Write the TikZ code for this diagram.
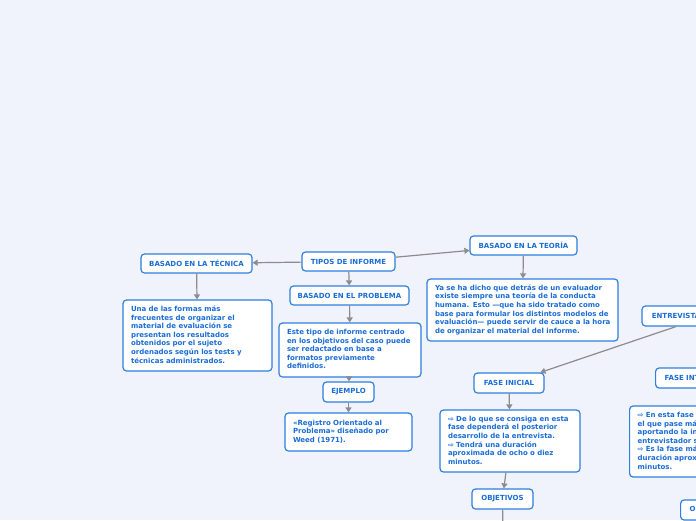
\documentclass[tikz,border=0pt]{standalone}
\usepackage{fontspec}
\setmainfont{DejaVu Sans}
\usetikzlibrary{arrows.meta}
\definecolor{bg}{HTML}{F0F3FC}
\definecolor{bord}{HTML}{2D7FE0}
\definecolor{txt}{HTML}{1A6CD6}
\definecolor{conncol}{HTML}{8C8C8C}
\newcommand{\lines}[1]{\begin{tabular}{@{}l@{}}#1\end{tabular}}
\tikzset{
 box/.style={draw=bord, fill=white, rounded corners=3.5pt, line width=1.2pt, text=txt, font=\bfseries\fontsize{7}{8.6}\selectfont},
 title/.style={box, align=center, inner sep=0pt, minimum height=19pt},
 body/.style={box, align=left, inner xsep=8pt, inner ysep=0pt},
 conn/.style={draw=conncol, line width=1.2pt, -{Triangle[length=5pt,width=6pt]}}
}
\begin{document}
\begin{tikzpicture}[x=1pt,y=-1pt]
\fill[bg] (0,0) rectangle (696,520);
\useasboundingbox (0,0) rectangle (696,520);
\clip (0,0) rectangle (696,520);
% left part
\node[title, minimum width=93pt] (tipos) at (348.5,261.5) {TIPOS DE INFORME};
\node[title, minimum width=111pt] (tecnica) at (196.5,263.5) {BASADO EN LA TÉCNICA};
\node[title, minimum width=119pt] (problema) at (349.5,295.5) {BASADO EN EL PROBLEMA};
\node[title, minimum width=107pt] (teoria) at (523.5,245.5) {BASADO EN LA TEORÍA};
\node[body, text width=133pt, minimum height=71pt] (tectext) at (197.5,335.5)
 {\lines{Una de las formas más\\frecuentes de organizar el\\material de evaluación se\\presentan los resultados\\obtenidos por el sujeto\\ordenados según los tests y\\técnicas administrados.}};
\node[body, text width=126pt, minimum height=54pt] (probtext) at (350,350)
 {\lines{Este tipo de informe centrado\\en los objetivos del caso puede\\ser redactado en base a\\formatos previamente\\definidos.}};
\node[title, minimum width=51pt, minimum height=20pt] (ejemplo) at (348.5,392) {EJEMPLO};
\node[body, text width=111pt, minimum height=38pt] (registro) at (348.5,432)
 {\lines{«Registro Orientado al\\Problema» diseñado por\\Weed (1971).}};
\node[body, text width=175pt, minimum height=62pt] (teotext) at (522.5,310)
 {\lines{Ya se ha dicho que detrás de un evaluador\\existe siempre una teoría de la conducta\\humana. Esto —que ha sido tratado como\\base para formular los distintos modelos de\\evaluación— puede servir de cauce a la hora\\de organizar el material del informe.}};
% entrevista part
\node[title, minimum width=68pt, minimum height=20pt] (entrevista) at (676,316) {ENTREVISTA};
\node[title, minimum width=70pt, minimum height=20pt] (faseini) at (509,383) {FASE INICIAL};
\node[body, text width=124pt, minimum height=62pt] (fitext) at (510,441)
 {\lines{⇨ De lo que se consiga en esta\\fase dependerá el posterior\\desarrollo de la entrevista.\\⇨ Tendrá una duración\\aproximada de ocho o diez\\minutos.}};
\node[title, minimum width=61pt, minimum height=20pt] (objetivos) at (502.5,499) {OBJETIVOS};
\coordinate (objdown) at (503,540);
\node[title, minimum height=20pt, anchor=west, text width=82pt, inner xsep=9pt, align=left] (faseint) at (655,378) {FASE INTERMEDIA};
\node[body, minimum height=71pt, anchor=west, text width=134pt] (rtext) at (629,441.5)
 {\lines{⇨ En esta fase es el entrevistado\\el que pase más tiempo hablando,\\aportando la información que el\\entrevistador solicita.\\⇨ Es la fase más larga, con una\\duración aproximada de treinta\\minutos.}};
\node[title, minimum height=20pt, anchor=west, text width=50pt, inner xsep=9pt, align=left] (objetivos2) at (680,510) {OBJETIVOS};
% connectors
\draw[conn] (tipos) -- (tecnica);
\draw[conn] (tipos) -- (teoria);
\draw[conn] (tipos) -- (problema);
\draw[conn] (tecnica) -- (tectext);
\draw[conn] (teoria) -- (teotext);
\draw[conn] (problema) -- (probtext);
\draw[conn] (probtext) -- (ejemplo);
\draw[conn] (ejemplo) -- (registro);
\draw[conn] (entrevista.south) -- (faseini);
\draw[conn] (faseini) -- (fitext);
\draw[conn] (fitext) -- (objetivos);
\draw[conn] (objetivos) -- (objdown);
\end{tikzpicture}
\end{document}
